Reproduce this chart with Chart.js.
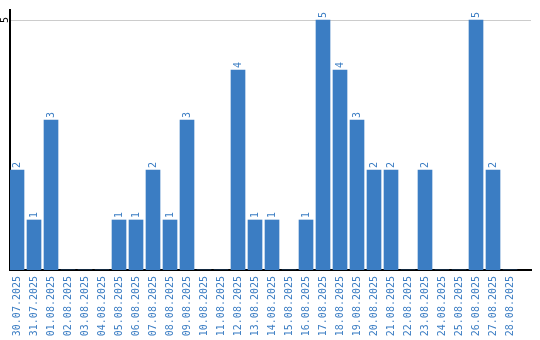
<!DOCTYPE html>
<html>
<head>
<meta charset="utf-8">
<script src="https://cdn.jsdelivr.net/npm/chart.js@4/dist/chart.umd.min.js"></script>
<style>
    html, body { margin: 0; padding: 0; background: #fff; }
    #wrap { width: 540px; height: 340px; }
</style>
</head>
<body>
<div id="wrap"><canvas id="dayChart"></canvas></div>
<script>
var dayLabels = [
    '30.07.2025', '31.07.2025', '01.08.2025', '02.08.2025', '03.08.2025',
    '04.08.2025', '05.08.2025', '06.08.2025', '07.08.2025', '08.08.2025',
    '09.08.2025', '10.08.2025', '11.08.2025', '12.08.2025', '13.08.2025',
    '14.08.2025', '15.08.2025', '16.08.2025', '17.08.2025', '18.08.2025',
    '19.08.2025', '20.08.2025', '21.08.2025', '22.08.2025', '23.08.2025',
    '24.08.2025', '25.08.2025', '26.08.2025', '27.08.2025', '28.08.2025',
];

var dayCounts = [
    2, 1, 3, 0, 0,
    0, 1, 1, 2, 1,
    3, 0, 0, 4, 1,
    1, 0, 1, 5, 4,
    3, 2, 2, 0, 2,
    0, 0, 5, 2, 0,
];

var yTickLabels = [5];

var barColor = '#3b7dc3';
var monoFont = "'DejaVu Sans Mono', monospace";

// value labels above each bar, rotated like the axis labels
var barValueLabels = {
    id: 'barValueLabels',
    afterDatasetsDraw: function (chart) {
        var ctx = chart.ctx;
        var meta = chart.getDatasetMeta(0);
        ctx.save();
        ctx.fillStyle = barColor;
        ctx.font = '10px ' + monoFont;
        ctx.textAlign = 'left';
        ctx.textBaseline = 'middle';
        meta.data.forEach(function (bar, i) {
            var v = dayCounts[i];
            if (!v) return;
            ctx.save();
            ctx.translate(bar.x, bar.y - 2);
            ctx.rotate(-Math.PI / 2);
            ctx.fillText(String(v), 0, 0);
            ctx.restore();
        });
        ctx.restore();
    },
};

var points = dayCounts.map(function (v, i) {
    return { x: i, y: v };
});

new Chart(document.getElementById('dayChart'), {
    type: 'bar',
    data: {
        datasets: [
            {
                data: points,
                backgroundColor: barColor,
                borderWidth: 0,
                barThickness: 14,
            },
        ],
    },
    options: {
        responsive: true,
        maintainAspectRatio: false,
        animation: false,
        layout: {
            padding: { top: 10, right: 9, bottom: 4, left: 0 },
        },
        scales: {
            x: {
                type: 'linear',
                bounds: 'data',
                offset: false,
                min: -0.412,
                max: 30.235,
                grid: { display: false, drawTicks: false },
                border: { display: true, color: '#000', width: 2 },
                afterBuildTicks: function (scale) {
                    scale.ticks = dayLabels.map(function (label, i) {
                        return { value: i };
                    });
                },
                ticks: {
                    autoSkip: false,
                    minRotation: 90,
                    maxRotation: 90,
                    padding: 6,
                    color: barColor,
                    font: { family: monoFont, size: 10 },
                    callback: function (value) {
                        return dayLabels[value];
                    },
                },
                afterFit: function (scale) {
                    scale.height = 66;
                },
            },
            y: {
                bounds: 'data',
                min: 0,
                max: 5.2,
                grid: {
                    drawTicks: false,
                    color: '#cccccc',
                },
                border: { display: true, color: '#000', width: 2 },
                afterBuildTicks: function (scale) {
                    scale.ticks = yTickLabels.map(function (v) {
                        return { value: v };
                    });
                },
                ticks: {
                    minRotation: 90,
                    maxRotation: 90,
                    crossAlign: 'center',
                    padding: 2,
                    color: '#000',
                    font: { family: monoFont, size: 10 },
                },
                afterFit: function (scale) {
                    scale.width = 10;
                },
            },
        },
        plugins: {
            legend: { display: false },
            tooltip: { enabled: false },
        },
    },
    plugins: [barValueLabels],
});
</script>
</body>
</html>
